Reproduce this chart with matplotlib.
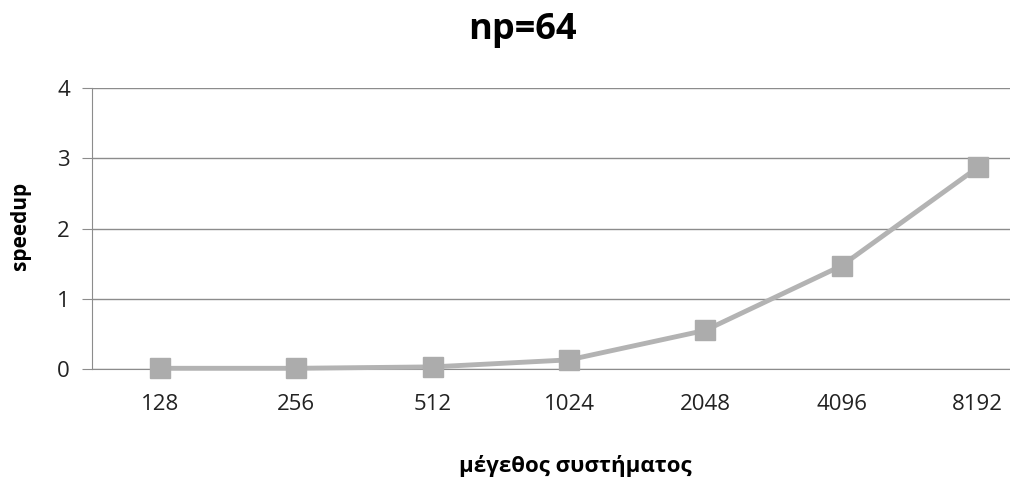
import matplotlib
matplotlib.use("Agg")
import matplotlib.pyplot as plt

sizes = ["128", "256", "512", "1024", "2048", "4096", "8192"]
speedup = [0.01, 0.01, 0.03, 0.13, 0.55, 1.47, 2.87]
yticks = [0, 1, 2, 3, 4]

plt.rcParams['font.family'] = ['Open Sans', 'DejaVu Sans']

W, H = 1010, 480
fig = plt.figure(figsize=(W / 100, H / 100), dpi=100)
left, right, top, bottom = 92, 1046, 88, 369
ax = fig.add_axes([left / W, 1 - bottom / H, (right - left) / W, (bottom - top) / H])

x = list(range(len(sizes)))
ax.plot(x, speedup, color="#b3b3b3", lw=3.5, marker="s", ms=14,
        markerfacecolor="#acacac", markeredgecolor="#acacac", zorder=3, clip_on=False)

ax.set_xlim(-0.5, len(sizes) - 0.5)
ax.set_ylim(0, 4)
ax.set_yticks(yticks)
ax.set_xticks(x)
ax.set_xticklabels(sizes)
ax.yaxis.grid(True, color="#8c8c8c", lw=1)
ax.set_axisbelow(True)
for s in ["top", "right"]:
    ax.spines[s].set_visible(False)
ax.spines["left"].set_color("#8c8c8c")
ax.spines["bottom"].set_color("#8c8c8c")
ax.tick_params(axis="y", length=7, color="#8c8c8c", labelsize=16, pad=9, labelcolor="#222222")
ax.tick_params(axis="x", length=0, labelsize=16, pad=18, labelcolor="#222222")

fig.text(522 / W, 1 - 30 / H, "np=64", ha="center", va="center", fontsize=26, fontweight="bold")
fig.text(21 / W, 1 - 226 / H, "speedup", ha="center", va="center", rotation=90,
         fontsize=15, fontweight="bold")
fig.text(575 / W, 1 - 466 / H, "μέγεθος συστήματος", ha="center", va="center",
         fontsize=16, fontweight="bold")

fig.savefig("out.png", dpi=100)
